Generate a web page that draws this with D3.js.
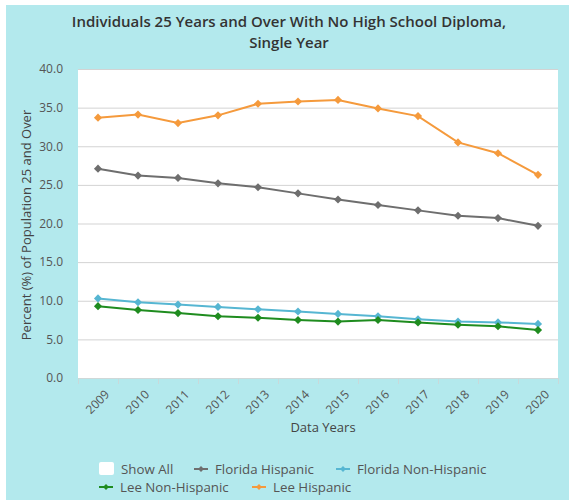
<!DOCTYPE html>
<html><head><meta charset="utf-8">
<script src="https://cdn.jsdelivr.net/npm/d3@7"></script>
<style>
html,body{margin:0;padding:0;background:#fff;}
svg{display:block;font-family:"Open Sans",sans-serif;}
</style></head>
<body><svg id="c" width="569" height="500"></svg>
<script>
const years = ["2009","2010","2011","2012","2013","2014","2015","2016","2017","2018","2019","2020"];
const floridaHispanic = [27.1,26.2,25.9,25.2,24.7,23.9,23.1,22.4,21.7,21.0,20.7,19.7];
const floridaNonHispanic = [10.3,9.8,9.5,9.2,8.9,8.6,8.3,8.0,7.6,7.3,7.2,7.0];
const leeNonHispanic = [9.3,8.8,8.4,8.0,7.8,7.5,7.3,7.5,7.2,6.9,6.7,6.2];
const leeHispanic = [33.7,34.1,33.0,34.0,35.5,35.8,36.0,34.9,33.9,30.5,29.1,26.3];
const yTicks = [0,5,10,15,20,25,30,35,40];
const seriesNames = ["Florida Hispanic","Florida Non-Hispanic","Lee Non-Hispanic","Lee Hispanic"];
const seriesColors = ["#6e6e6e","#56b6d2","#1f8c1f","#f59a3c"];

const series = [
  {name:seriesNames[0], values:floridaHispanic, color:seriesColors[0]},
  {name:seriesNames[1], values:floridaNonHispanic, color:seriesColors[1]},
  {name:seriesNames[2], values:leeNonHispanic, color:seriesColors[2]},
  {name:seriesNames[3], values:leeHispanic, color:seriesColors[3]}
];

const svg = d3.select("#c");
svg.append("rect").attr("x",6).attr("y",5).attr("width",563).attr("height",495).attr("fill","#b3e9ed");

const L=78,R=558,T=69,B=378;
svg.append("rect").attr("x",L).attr("y",T).attr("width",R-L).attr("height",B-T).attr("fill","#fff");

const x = d3.scaleBand().domain(years).range([L,R]);
const y = d3.scaleLinear().domain([0,40]).range([B,T]);

// title
const title = svg.append("text").attr("text-anchor","middle").attr("fill","#333")
  .style("font-weight","600").style("font-size","15px");
title.append("tspan").attr("x",289).attr("y",27).text("Individuals 25 Years and Over With No High School Diploma,");
title.append("tspan").attr("x",289).attr("y",48).text("Single Year");

// grid
const g = svg.append("g");
g.selectAll("line.grid").data(yTicks.filter(d=>d>0)).join("line")
  .attr("x1",L).attr("x2",R).attr("y1",d=>y(d)+0.5).attr("y2",d=>y(d)+0.5)
  .attr("stroke","#d3d3d3").attr("stroke-width",1);

// y axis
const ya = svg.append("g").attr("transform",`translate(${L},0)`)
  .call(d3.axisLeft(y).tickValues(yTicks).tickFormat(d3.format(".1f")).tickSize(0).tickPadding(15));
ya.select(".domain").remove();
ya.selectAll("text").attr("fill","#555").style("font-size","12px").style("font-family","Open Sans");

// x axis
const xa = svg.append("g").attr("transform",`translate(0,${B})`)
  .call(d3.axisBottom(x).tickSize(0));
xa.select(".domain").attr("stroke","#cfd8d8");
xa.selectAll("text").attr("fill","#555").style("font-size","12px").style("font-family","Open Sans")
  .attr("text-anchor","end").attr("transform","translate(5,10) rotate(-45)").attr("dy","0.6em");
// band boundary ticks
svg.append("g").selectAll("line").data(years.concat(["end"])).join("line")
  .attr("x1",(d,i)=>L+i*x.step()+0.5).attr("x2",(d,i)=>L+i*x.step()+0.5)
  .attr("y1",B).attr("y2",B+6).attr("stroke","#c9d9da");

// axis titles
svg.append("text").attr("x",323).attr("y",432).attr("text-anchor","middle").attr("fill","#444")
  .style("font-size","13px").text("Data Years");
svg.append("text").attr("transform","translate(31,225) rotate(-90)").attr("text-anchor","middle")
  .attr("fill","#444").style("font-size","13px").text("Percent (%) of Population 25 and Over");

// lines
const line = d3.line().x((d,i)=>x(years[i])+x.bandwidth()/2).y(d=>y(d));
const diamond = d3.symbol().type(d3.symbolDiamond2).size(42);
[0,1,2,3].forEach(k=>{
  const s = series[k];
  svg.append("path").attr("d",line(s.values)).attr("fill","none").attr("stroke",s.color).attr("stroke-width",2);
  svg.append("g").selectAll("path").data(s.values).join("path")
    .attr("transform",(d,i)=>`translate(${x(years[i])+x.bandwidth()/2},${y(d)})`)
    .attr("d",diamond).attr("fill",s.color);
});

// legend
const leg = svg.append("g").style("font-size","13.3px");
leg.append("rect").attr("x",99).attr("y",462).attr("width",15).attr("height",13).attr("rx",2).attr("fill","#fff");
leg.append("text").attr("x",121).attr("y",474).attr("fill","#555").text("Show All");
const legItems = [
  {s:0,x:194,y:469},{s:1,x:336,y:469},{s:2,x:99,y:487},{s:3,x:252,y:487}
];
legItems.forEach(it=>{
  const s = series[it.s];
  leg.append("line").attr("x1",it.x).attr("x2",it.x+14).attr("y1",it.y).attr("y2",it.y).attr("stroke",s.color).attr("stroke-width",2);
  leg.append("path").attr("transform",`translate(${it.x+7},${it.y})`).attr("d",d3.symbol().type(d3.symbolDiamond2).size(22)).attr("fill",s.color);
  leg.append("text").attr("x",it.x+21).attr("y",it.y+5).attr("fill","#555").text(s.name);
});
</script></body></html>
